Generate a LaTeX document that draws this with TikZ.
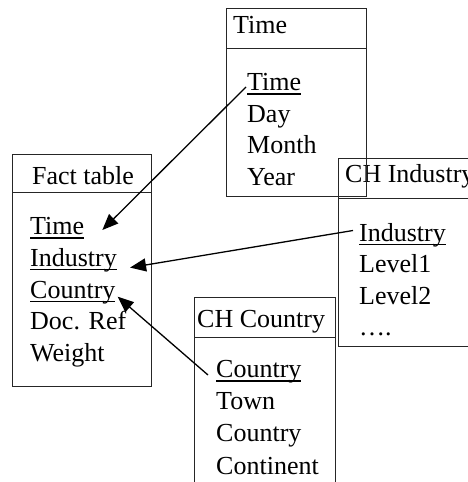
\documentclass[tikz,border=0pt]{standalone}
\usepackage{fontspec}
\setmainfont{Liberation Serif}
\usetikzlibrary{arrows.meta,calc}

% key attribute: text with a rule just under the baseline
\newcommand{\keyattr}[1]{\setbox0\hbox{#1}\rlap{\vrule height -2.4pt depth 3.6pt width \wd0}\box0}

\tikzset{
  tablebox/.style={draw=black!85, line width=1pt},
  attr/.style={anchor=base west, inner sep=0pt, font=\fontsize{26}{26}\selectfont},
  link/.style={draw=black, line width=1.3pt, -{Triangle[length=16pt,width=13pt]}}
}

\begin{document}
\begin{tikzpicture}[x=1pt,y=1pt]
\useasboundingbox (0,0) rectangle (468,482);
\clip (0,0) rectangle (468,482);

% CH Industry table (runs past the right edge)
\draw[tablebox] (338,323) rectangle (490,135);
\draw[tablebox] (338,283) -- (490,283);
\node[attr] (ihead) at (345,299) {CH Industry};
\node[attr] (iIndustry) at (359,240.5) {\keyattr{Industry}};
\node[attr] (iLevelA) at (359,209) {Level1};
\node[attr] (iLevelB) at (359,177.5) {Level2};
\node[attr] (iMore) at (359,146) {….};

% Time table
\draw[tablebox] (226,473) rectangle (366,285);
\draw[tablebox] (226,433) -- (366,433);
\node[attr] (thead) at (233,448) {Time};
\node[attr] (tTime) at (247,391) {\keyattr{Time}};
\node[attr] (tDay) at (247,359.5) {Day};
\node[attr] (tMonth) at (247,328) {Month};
\node[attr] (tYear) at (247,296.5) {Year};

% Fact table
\draw[tablebox] (12,327) rectangle (151,95);
\draw[tablebox] (12,289) -- (151,289);
\node[attr] (fhead) at (32,297) {Fact table};
\node[attr] (fTime) at (30,247) {\keyattr{Time}};
\node[attr] (fIndustry) at (30,215.4) {\keyattr{Industry}};
\node[attr] (fCountry) at (30,183.8) {\keyattr{Country}};
\node[attr] (fDoc) at (30,152.2) {Doc. Ref};
\node[attr] (fWeight) at (30,120.6) {Weight};

% CH Country table (runs past the bottom edge)
\draw[tablebox] (194,-10) -- (194,184) -- (335,184) -- (335,-10);
\draw[tablebox] (194,144) -- (335,144);
\node[attr] (chead) at (197,154) {CH Country};
\node[attr] (cCountry) at (216,104) {\keyattr{Country}};
\node[attr] (cTown) at (216,72) {Town};
\node[attr] (cCountryB) at (216,40) {Country};
\node[attr] (cContinent) at (216,8) {Continent};

% foreign keys
\draw[link] ($(tTime.base west)+(-1,4)$) -- ($(fTime.base east)+(18,5)$);
\draw[link] ($(iIndustry.base west)+(-6,11)$) -- ($(fIndustry.base east)+(13,-1)$);
\draw[link] ($(cCountry.base west)+(-8,3)$) -- ($(fCountry.base east)+(2,1.5)$);
\end{tikzpicture}
\end{document}
